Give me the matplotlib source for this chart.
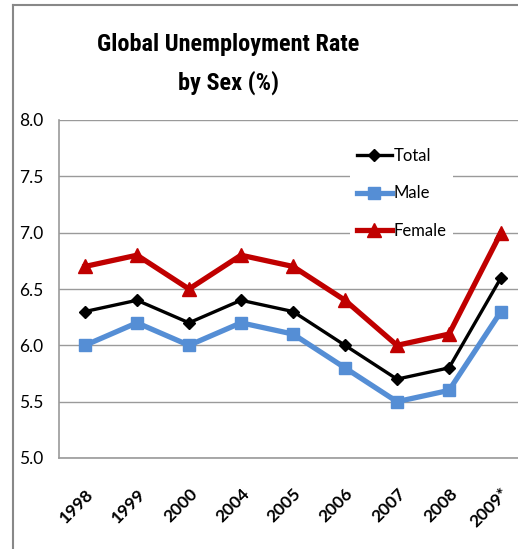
import matplotlib
matplotlib.use("Agg")
import matplotlib.pyplot as plt
from matplotlib.lines import Line2D

years = ["1998", "1999", "2000", "2004", "2005", "2006", "2007", "2008", "2009*"]
total = [6.3, 6.4, 6.2, 6.4, 6.3, 6.0, 5.7, 5.8, 6.6]
male = [6.0, 6.2, 6.0, 6.2, 6.1, 5.8, 5.5, 5.6, 6.3]
female = [6.7, 6.8, 6.5, 6.8, 6.7, 6.4, 6.0, 6.1, 7.0]
yticks = [5.0, 5.5, 6.0, 6.5, 7.0, 7.5, 8.0]

plt.rcParams["font.family"] = ["Lato", "DejaVu Sans"]

fig = plt.figure(figsize=(5.18, 5.49), dpi=100)
W, H = 518, 549
ax = fig.add_axes([59 / W, (H - 458) / H, 468 / W, 338 / H])

x = list(range(len(years)))
ax.plot(x, total, color="black", lw=2.4, marker="D", ms=6.5, label="Total", zorder=4)
ax.plot(x, male, color="#558ED5", lw=3.8, marker="s", ms=8.5, label="Male", zorder=3)
ax.plot(x, female, color="#C00000", lw=3.8, marker="^", ms=10.5, label="Female", zorder=3)

ax.set_xlim(-0.5, len(years) - 0.5)
ax.set_ylim(5.0, 8.0)
ax.set_yticks(yticks)
ax.set_yticklabels([f"{v:.1f}" for v in yticks], fontsize=12.5)
ax.set_xticks(x)
ax.set_xticklabels(years, rotation=45, ha="right", rotation_mode="anchor",
                   fontsize=12.5, fontweight="bold")
ax.tick_params(axis="both", length=0)
ax.tick_params(axis="y", pad=11)
ax.tick_params(axis="x", pad=20)

ax.grid(axis="y", color="#9a9a9a", lw=1)
ax.set_axisbelow(True)
for side in ("top", "right"):
    ax.spines[side].set_visible(False)
for side in ("left", "bottom"):
    ax.spines[side].set_color("#9a9a9a")
    ax.spines[side].set_linewidth(1.2)

leg = ax.legend(loc="upper left", bbox_to_anchor=((350 - 59) / 468, (458 - 141) / 338),
                frameon=True, fancybox=False, edgecolor="none", facecolor="white",
                framealpha=1, fontsize=12, handlelength=2.1, handletextpad=0.1,
                labelspacing=1.3, borderpad=0.4, borderaxespad=0)

title_font = ["Roboto Condensed", "Lato", "DejaVu Sans"]
fig.text(228 / W, 1 - 45 / H, "Global Unemployment Rate", ha="center", va="center",
         fontsize=17.5, fontweight="bold", family=title_font)
fig.text(228 / W, 1 - 83 / H, "by Sex (%)", ha="center", va="center",
         fontsize=17.5, fontweight="bold", family=title_font)

# outer frame lines
fig.add_artist(Line2D([13 / W, 13 / W], [0, 1 - 5 / H], color="#888888", lw=1.5,
                      transform=fig.transFigure))
fig.add_artist(Line2D([13 / W, 1], [1 - 5 / H, 1 - 5 / H], color="#888888", lw=1.5,
                      transform=fig.transFigure))

fig.savefig("out.png", dpi=100)
